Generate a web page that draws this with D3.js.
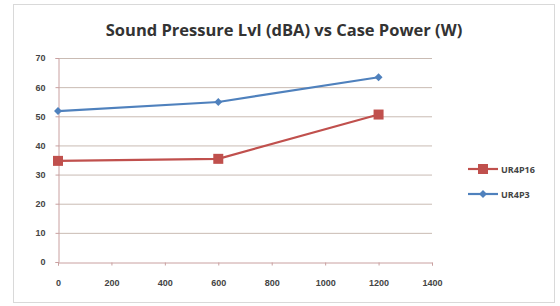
<!DOCTYPE html>
<html>
<head>
<meta charset="utf-8">
<script src="https://cdn.jsdelivr.net/npm/d3@7"></script>
<style>
  body { margin: 0; background: #fff; }
  svg { display: block; font-family: "Open Sans", "Liberation Sans", sans-serif; }
  .tick text { font-size: 9px; font-weight: bold; fill: #444; }
</style>
</head>
<body>
<svg id="chart" width="560" height="306"></svg>
<script>
// chart data
const powers = [0, 600, 1200];
const ur4p16 = [34.7, 35.4, 50.6];
const ur4p3 = [51.8, 54.9, 63.4];
const seriesNames = ['UR4P16', 'UR4P3'];
const xTicks = [0, 200, 400, 600, 800, 1000, 1200, 1400];
const yTicks = [0, 10, 20, 30, 40, 50, 60, 70];

const svg = d3.select('#chart');

// chart frame
svg.append('rect')
    .attr('x', 13.5).attr('y', 4.5)
    .attr('width', 541).attr('height', 298)
    .attr('fill', '#fff')
    .attr('stroke', '#d9d9d9');

const margin = {top: 58, left: 58, bottom: 44, right: 128};
const width = 560, height = 306;

const x = d3.scaleLinear()
    .domain([0, 1400])
    .range([margin.left, width - margin.right]);
const y = d3.scaleLinear()
    .domain([0, 70])
    .range([height - margin.bottom, margin.top]);

// gridlines
svg.append('g')
    .selectAll('line')
    .data(yTicks.slice(1))
    .join('line')
    .attr('x1', x(0)).attr('x2', x(1400))
    .attr('y1', d => y(d) + 0.5).attr('y2', d => y(d) + 0.5)
    .attr('stroke', '#c9bbb3');

// axes
const xAxis = svg.append('g')
    .attr('transform', `translate(0, ${y(0) + 0.5})`)
    .call(d3.axisBottom(x).tickValues(xTicks).tickFormat(d3.format('d'))
        .tickSize(3).tickPadding(14));
xAxis.select('.domain').attr('stroke', '#c9a0a0');
xAxis.selectAll('.tick line').attr('stroke', '#c9a0a0');

const yAxis = svg.append('g')
    .attr('transform', `translate(${x(0) + 0.5}, 0)`)
    .call(d3.axisLeft(y).tickValues(yTicks).tickSize(3).tickPadding(10));
yAxis.select('.domain').attr('stroke', '#c9a0a0');
yAxis.selectAll('.tick line').attr('stroke', '#c9a0a0');

// series
const series = [
    {name: seriesNames[0], values: ur4p16, color: '#c0504d', marker: 'square'},
    {name: seriesNames[1], values: ur4p3, color: '#4f81bd', marker: 'diamond'}
];

const line = d3.line()
    .x((d, i) => x(powers[i]))
    .y(d => y(d));

function drawMarker(g, s, cx, cy) {
    if (s.marker === 'square') {
        g.append('rect')
            .attr('x', cx - 5).attr('y', cy - 5)
            .attr('width', 10).attr('height', 10)
            .attr('fill', s.color);
    } else {
        g.append('path')
            .attr('d', d3.symbol(d3.symbolDiamond2, 40)())
            .attr('transform', `translate(${cx}, ${cy})`)
            .attr('fill', s.color);
    }
}

series.forEach(s => {
    const g = svg.append('g');
    g.append('path')
        .datum(s.values)
        .attr('d', line)
        .attr('fill', 'none')
        .attr('stroke', s.color)
        .attr('stroke-width', 2.2);
    s.values.forEach((v, i) => drawMarker(g, s, x(powers[i]), y(v)));
});

// legend
series.forEach((s, i) => {
    const ly = 169 + i * 25;
    const g = svg.append('g');
    g.append('line')
        .attr('x1', 468).attr('x2', 498)
        .attr('y1', ly).attr('y2', ly)
        .attr('stroke', s.color).attr('stroke-width', 2.2);
    drawMarker(g, s, 483, ly);
    g.append('text')
        .attr('x', 501).attr('y', ly + 3.5)
        .attr('font-size', 9).attr('font-weight', 'bold')
        .attr('fill', '#444')
        .text(s.name);
});

// title
svg.append('text')
    .attr('x', 284).attr('y', 36)
    .attr('text-anchor', 'middle')
    .attr('font-size', 16.5).attr('font-weight', 'bold')
    .attr('fill', '#333')
    .text('Sound Pressure Lvl (dBA) vs Case Power (W)');
</script>
</body>
</html>
